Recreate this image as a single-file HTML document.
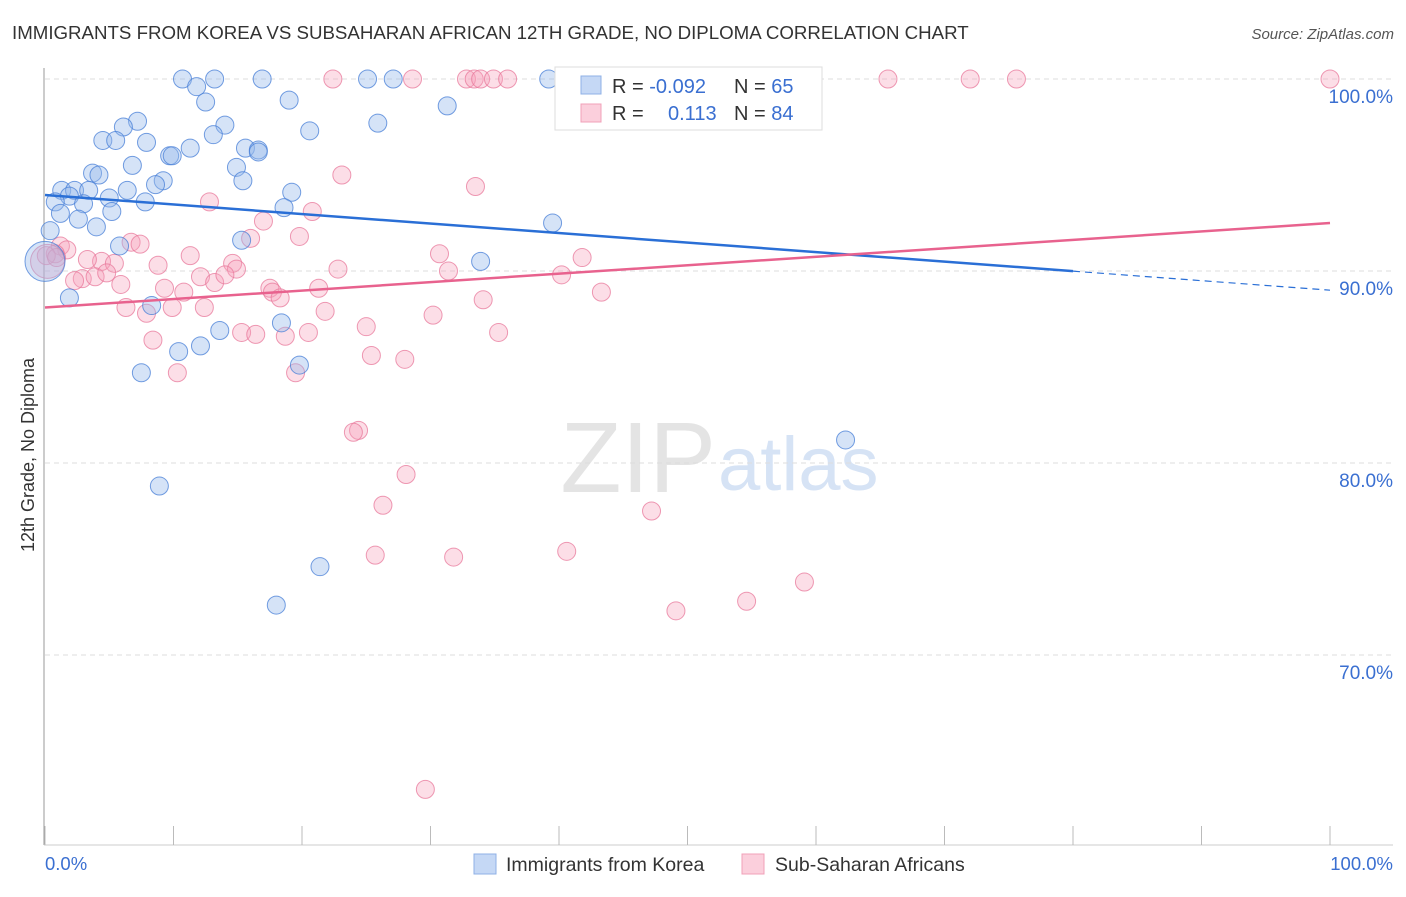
<!DOCTYPE html>
<html><head><meta charset="utf-8"><style>
body{margin:0;background:#fff;font-family:"Liberation Sans",sans-serif;}
svg text{font-family:"Liberation Sans",sans-serif;}
</style></head><body>
<svg width="1406" height="892" xmlns="http://www.w3.org/2000/svg">
<text x="12" y="39" font-size="18.7" fill="#333">IMMIGRANTS FROM KOREA VS SUBSAHARAN AFRICAN 12TH GRADE, NO DIPLOMA CORRELATION CHART</text>
<text x="1394" y="39" font-size="15" fill="#555" text-anchor="end" font-style="italic">Source: ZipAtlas.com</text>
<text x="716" y="492" font-size="100" fill="#e4e4e4" text-anchor="end" font-family="Liberation Serif">ZIP</text>
<text x="718" y="490" font-size="76" fill="#d6e3f5">atlas</text>
<g id="grid"></g>
<line x1="44" y1="68" x2="44" y2="845" stroke="#999"/>
<line x1="44" y1="845" x2="1393" y2="845" stroke="#ccc"/>
<g id="xticks"></g>
<text transform="translate(34,455) rotate(-90)" font-size="18" fill="#333" text-anchor="middle">12th Grade, No Diploma</text>
<text x="45" y="870" font-size="18.5" fill="#3a6fd1">0.0%</text>
<text x="1393" y="870" font-size="18.5" fill="#3a6fd1" text-anchor="end">100.0%</text>
<g id="pts"></g>
<g id="trends"></g>
<g>
<rect x="555" y="67" width="267" height="63" fill="#fff" stroke="#ddd"/>
<rect x="581" y="76" width="20" height="18" fill="#c5d8f5" stroke="#8fb0e6"/>
<rect x="581" y="104" width="20" height="18" fill="#fbcfdc" stroke="#f0a0b8"/>
<text x="612" y="93" font-size="20" fill="#333">R = <tspan fill="#3a6fd1">-0.092</tspan></text>
<text x="734" y="93" font-size="20" fill="#333">N = <tspan fill="#3a6fd1">65</tspan></text>
<text x="612" y="120" font-size="20" fill="#333">R = <tspan fill="#3a6fd1" x="668">0.113</tspan></text>
<text x="734" y="120" font-size="20" fill="#333">N = <tspan fill="#3a6fd1">84</tspan></text>
</g>
<g>
<rect x="474" y="854" width="22" height="20" fill="#c5d8f5" stroke="#8fb0e6"/>
<text x="506" y="871" font-size="19.5" fill="#333">Immigrants from Korea</text>
<rect x="742" y="854" width="22" height="20" fill="#fbcfdc" stroke="#f0a0b8"/>
<text x="775" y="871" font-size="19.5" fill="#333">Sub-Saharan Africans</text>
</g>
</svg>
<script>
const yTicks=[100,90,80,70];
const yTickLabels=["100.0%","90.0%","80.0%","70.0%"];
const xTicks=[0,10,20,30,40,50,60,70,80,90,100];
const koreaX=[10.7,13.2,16.9,25.1,27.1,39.2,11.8,12.5,19.0,31.3,7.2,6.1,14.0,13.1,25.9,20.6,4.5,5.5,7.9,11.3,9.7,9.9,15.6,16.6,16.6,14.9,6.8,3.7,4.2,15.4,9.2,8.6,6.4,1.3,2.3,3.4,1.9,19.2,5.0,7.8,0.8,3.0,5.2,1.2,18.6,2.6,4.0,39.5,0.4,15.3,5.8,33.9,0.0,1.9,8.3,18.4,13.6,12.1,10.4,19.8,7.5,62.3,8.9,21.4,18.0];
const koreaY=[100,100,100,100,100,100,99.6,98.8,98.9,98.6,97.8,97.5,97.6,97.1,97.7,97.3,96.8,96.8,96.7,96.4,96.0,96.0,96.4,96.3,96.2,95.4,95.5,95.1,95.0,94.7,94.7,94.5,94.2,94.2,94.2,94.2,93.9,94.1,93.8,93.6,93.6,93.5,93.1,93.0,93.3,92.7,92.3,92.5,92.1,91.6,91.3,90.5,90.5,88.6,88.2,87.3,86.9,86.1,85.8,85.1,84.7,81.2,78.8,74.6,72.6];
const afrX=[22.4,28.6,32.8,33.4,33.9,34.9,36.0,46.1,52.4,65.6,72.0,75.6,100,23.1,33.5,12.8,20.8,17.0,16.0,6.7,7.4,19.8,1.2,1.7,0.8,0.1,0.9,0.2,41.8,30.7,11.3,4.4,5.4,3.3,14.6,8.8,2.9,3.9,4.8,2.3,14.9,22.8,31.4,40.2,12.1,13.2,5.9,14.0,17.5,17.7,18.3,21.3,10.8,9.3,43.3,34.1,6.3,7.9,9.9,12.4,21.8,30.2,25.0,15.3,16.4,18.7,20.5,35.3,8.4,25.4,28.0,19.5,10.3,24.4,24.0,28.1,26.3,47.2,25.7,40.6,31.8,59.1,54.6,49.1,29.6];
const afrY=[100,100,100,100,100,100,100,100,100,100,100,100,100,95.0,94.4,93.6,93.1,92.6,91.7,91.5,91.4,91.8,91.3,91.1,90.9,90.8,90.7,90.5,90.7,90.9,90.8,90.5,90.4,90.6,90.4,90.3,89.6,89.7,89.9,89.5,90.1,90.1,90.0,89.8,89.7,89.4,89.3,89.8,89.1,88.9,88.6,89.1,88.9,89.1,88.9,88.5,88.1,87.8,88.1,88.1,87.9,87.7,87.1,86.8,86.7,86.6,86.8,86.8,86.4,85.6,85.4,84.7,84.7,81.7,81.6,79.4,77.8,77.5,75.2,75.4,75.1,73.8,72.8,72.3,63.0];
const koreaTrend=[93.96,89.0];
const afrTrend=[88.1,92.5];
const NS="http://www.w3.org/2000/svg";
const sx=v=>45+v*12.85;
const sy=v=>79+(100-v)*19.2;
function mk(t,a,p){const e=document.createElementNS(NS,t);for(const k in a)e.setAttribute(k,a[k]);p.appendChild(e);return e;}
const grid=document.getElementById('grid');
yTicks.forEach((v,i)=>{
 const l=mk('line',{x1:45,x2:1393,y1:sy(v),y2:sy(v),stroke:'#ddd','stroke-dasharray':'5,4'},grid);
 
 
 const t=mk('text',{x:1393,y:sy(v)+24,'font-size':19,fill:'#3a6fd1','text-anchor':'end'},grid);
 t.textContent=yTickLabels[i];
 
 
});
const xt=document.getElementById('xticks');
xTicks.forEach(v=>{
 const l=mk('line',{x1:sx(v),x2:sx(v),y1:826,y2:845,stroke:'#bbb'},xt);
 
 
});
const pts=document.getElementById('pts');
afrX.forEach((x,i)=>{
 const c=mk('circle',{cx:sx(x),cy:sy(afrY[i]),r:(i==27?17:9),fill:'rgba(245,160,185,0.35)',stroke:'rgba(232,120,155,0.75)','stroke-width':1},pts);
 
 
});
koreaX.forEach((x,i)=>{
 const c=mk('circle',{cx:sx(x),cy:sy(koreaY[i]),r:(i==52?20:9),fill:'rgba(150,185,235,0.4)',stroke:'rgba(70,125,215,0.75)','stroke-width':1},pts);
 
 
});
const tr=document.getElementById('trends');
const kAt=x=>koreaTrend[0]+(koreaTrend[1]-koreaTrend[0])*x/100;
let l1=mk('line',{x1:sx(0),y1:sy(kAt(0)),x2:sx(80),y2:sy(kAt(80)),stroke:'#2a6fd6','stroke-width':2.5},tr);


let l2=mk('line',{x1:sx(80),y1:sy(kAt(80)),x2:sx(100),y2:sy(kAt(100)),stroke:'#2a6fd6','stroke-width':1.2,'stroke-dasharray':'7,5'},tr);


let l3=mk('line',{x1:sx(0),y1:sy(afrTrend[0]),x2:sx(100),y2:sy(afrTrend[1]),stroke:'#e8628e','stroke-width':2.5},tr);


</script>
</body></html>
